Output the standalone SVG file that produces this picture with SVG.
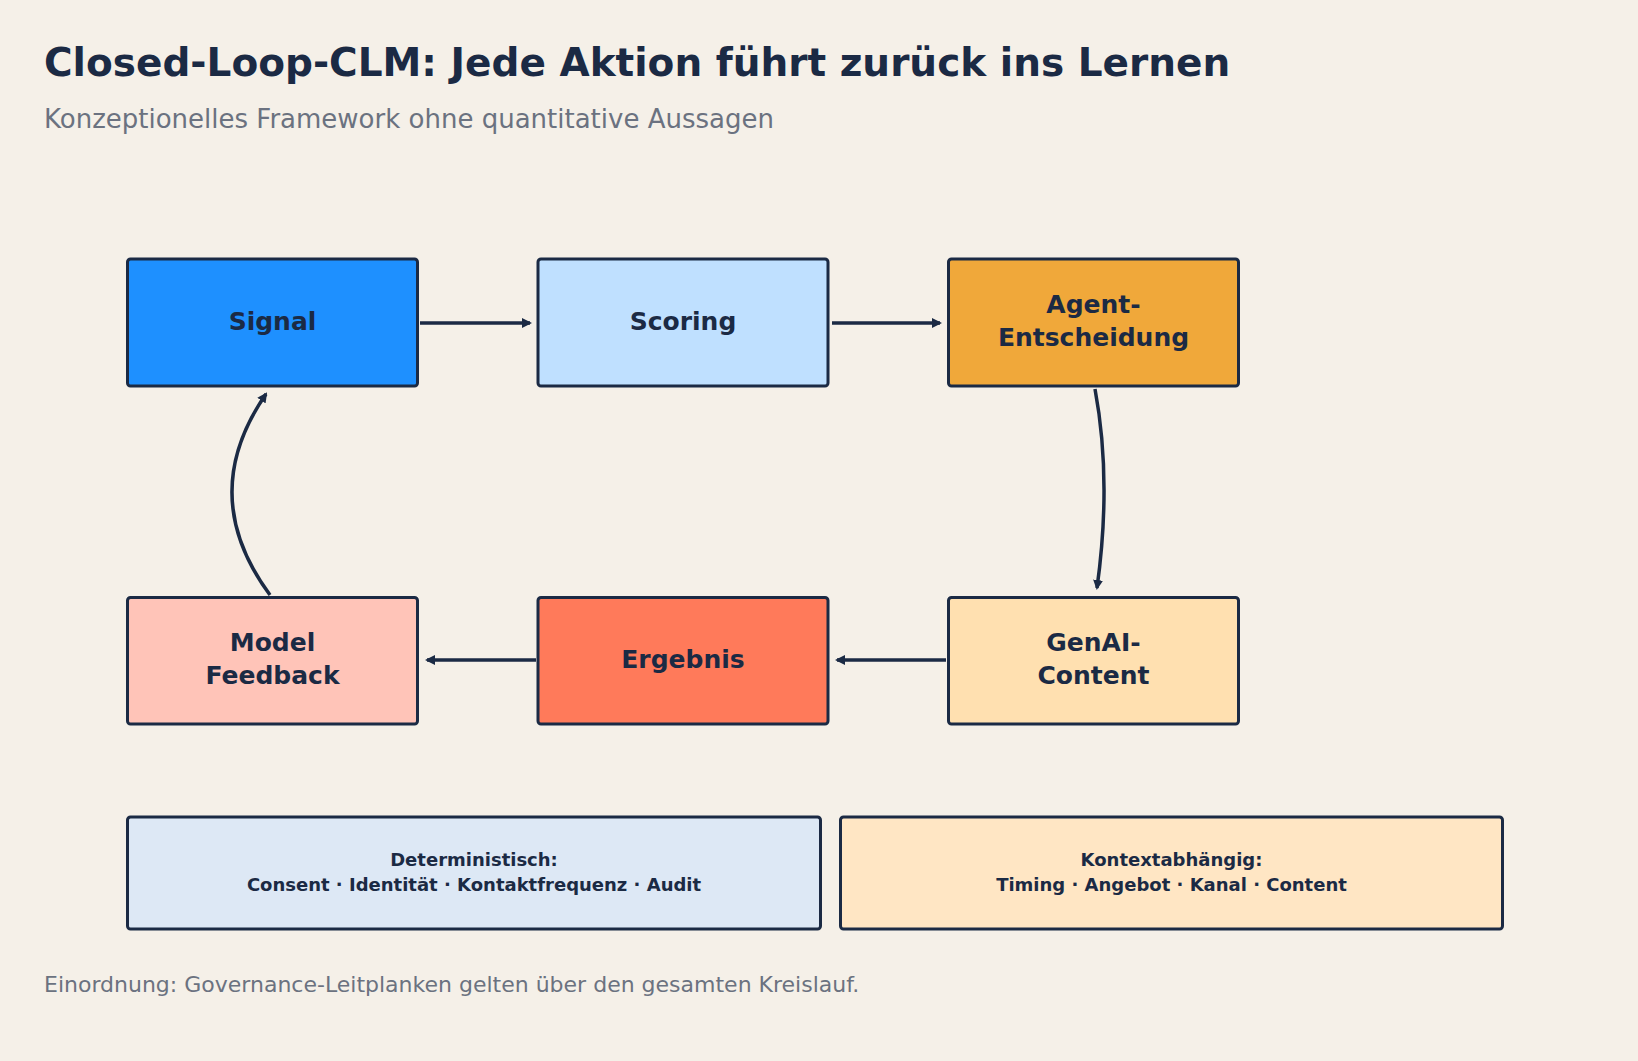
<svg xmlns="http://www.w3.org/2000/svg" width="1638" height="1061" viewBox="0 0 1638 1061">
<defs>
<marker id="ah" viewBox="0 0 10 10" refX="8" refY="5" markerWidth="10" markerHeight="10" markerUnits="userSpaceOnUse" orient="auto"><path d="M0,0 L10,5 L0,10 z" fill="#1b2a44"/></marker>
<style>
.n{stroke:#1b2a44;stroke-width:3}
.l{font-family:"DejaVu Sans",sans-serif;font-weight:bold;font-size:25px;fill:#1b2a44;text-anchor:middle}
.s{font-family:"DejaVu Sans",sans-serif;font-weight:bold;font-size:18px;fill:#1b2a44;text-anchor:middle}
.c{fill:none;stroke:#1b2a44;stroke-width:3.5;marker-end:url(#ah)}
</style>
</defs>
<rect width="1638" height="1061" fill="#f5f0e8"/>
<text x="44" y="76" font-family="DejaVu Sans,sans-serif" font-weight="bold" font-size="39" fill="#1b2a44">Closed-Loop-CLM: Jede Aktion führt zurück ins Lernen</text>
<text x="44" y="128" font-family="DejaVu Sans,sans-serif" font-size="26" fill="#6b7280">Konzeptionelles Framework ohne quantitative Aussagen</text>
<g id="signal"><rect class="n" x="127.5" y="259" width="290" height="127" rx="3" fill="#1e90ff"/><text class="l" x="272.5" y="330">Signal</text></g>
<g id="scoring"><rect class="n" x="538" y="259" width="290" height="127" rx="3" fill="#bfe0ff"/><text class="l" x="683" y="330">Scoring</text></g>
<g id="agent"><rect class="n" x="948.5" y="259" width="290" height="127" rx="3" fill="#f0a83a"/><text class="l" x="1093.5" y="313">Agent-</text><text class="l" x="1093.5" y="346">Entscheidung</text></g>
<g id="model"><rect class="n" x="127.5" y="597.5" width="290" height="126.5" rx="3" fill="#ffc4b8"/><text class="l" x="272.5" y="651">Model</text><text class="l" x="272.5" y="684">Feedback</text></g>
<g id="ergebnis"><rect class="n" x="538" y="597.5" width="290" height="126.5" rx="3" fill="#ff7a5a"/><text class="l" x="683" y="668">Ergebnis</text></g>
<g id="genai"><rect class="n" x="948.5" y="597.5" width="290" height="126.5" rx="3" fill="#ffe0b0"/><text class="l" x="1093.5" y="651">GenAI-</text><text class="l" x="1093.5" y="684">Content</text></g>
<g id="det"><rect class="n" x="127.5" y="817" width="693" height="112" rx="3" fill="#dde8f5"/><text class="s" x="474" y="866">Deterministisch:</text><text class="s" x="474" y="891">Consent · Identität · Kontaktfrequenz · Audit</text></g>
<g id="ctx"><rect class="n" x="840.5" y="817" width="662" height="112" rx="3" fill="#ffe6c4"/><text class="s" x="1171.5" y="866">Kontextabhängig:</text><text class="s" x="1171.5" y="891">Timing · Angebot · Kanal · Content</text></g>
<g id="connectors">
<path class="c" d="M420,323 L530,323"/>
<path class="c" d="M832,323 L940,323"/>
<path class="c" d="M1095,389 Q1112,480 1097,588"/>
<path class="c" d="M946,660 L837,660"/>
<path class="c" d="M536,660 L427,660"/>
<path class="c" d="M270,595 Q196,495 266,394"/>
</g>
<text x="44" y="992" font-family="DejaVu Sans,sans-serif" font-size="22" fill="#6b7280">Einordnung: Governance-Leitplanken gelten über den gesamten Kreislauf.</text>
</svg>
